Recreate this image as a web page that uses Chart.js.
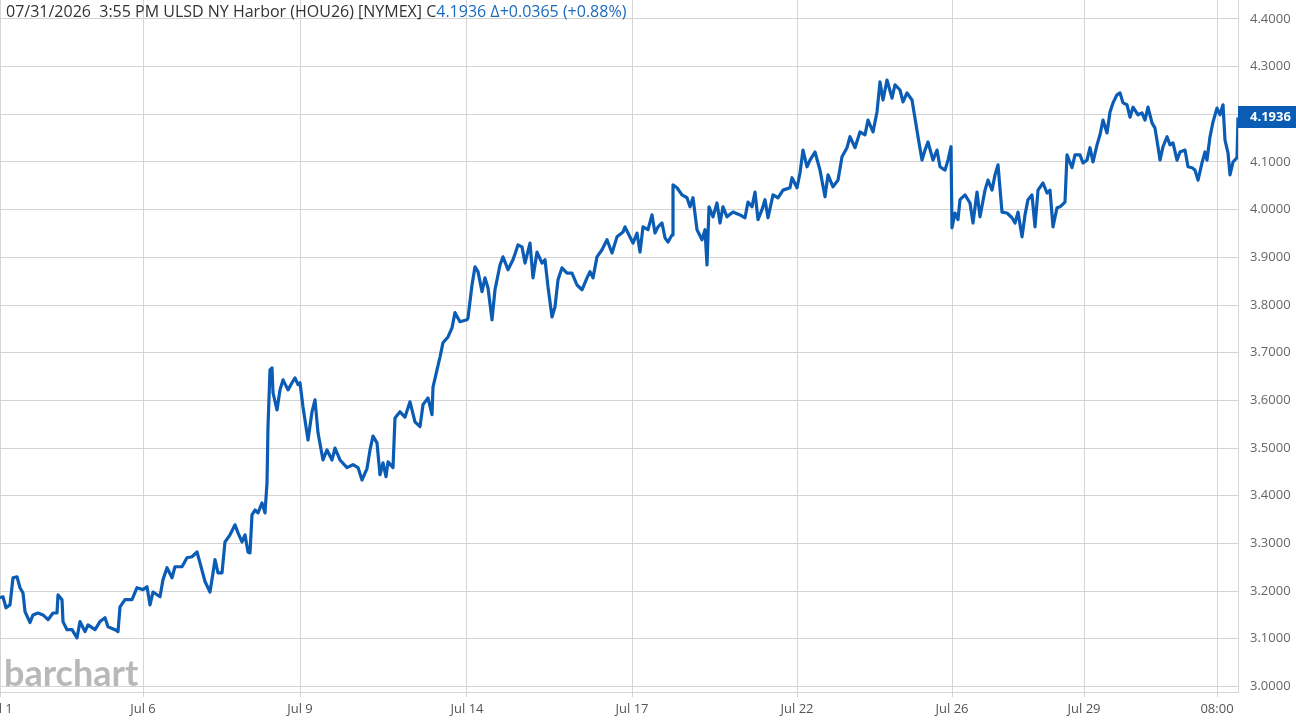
<!DOCTYPE html>
<html>
<head>
<meta charset="utf-8">
<script src="https://cdn.jsdelivr.net/npm/chart.js@4.4.1/dist/chart.umd.min.js"></script>
<style>
  html, body { margin: 0; padding: 0; background: #fff; overflow: hidden; }
  #wrap { width: 1296px; height: 721px; position: relative; }
</style>
</head>
<body>
<div id="wrap"><canvas id="chart" width="1296" height="721"></canvas></div>
<script>
// ============================
// Data (bar index on x, price on y)
// ============================
const times = [
  0, 3, 6, 10, 13, 17, 20, 23, 25, 30, 33, 38, 43, 48, 53, 57, 58, 62, 63, 67,
  72, 77, 80, 85, 88, 95, 100, 105, 108, 115, 118, 120, 125, 132, 137, 143, 147, 150, 153, 160,
  163, 167, 172, 175, 182, 187, 192, 197, 200, 205, 210, 213, 215, 218, 222, 225, 230, 235, 238, 242,
  245, 248, 250, 252, 255, 258, 262, 265, 267, 268, 270, 272, 273, 277, 280, 283, 288, 292, 295, 298,
  300, 303, 308, 312, 315, 318, 323, 327, 332, 335, 340, 347, 353, 358, 362, 367, 370, 373, 377, 380,
  383, 386, 388, 393, 395, 400, 405, 410, 415, 420, 423, 428, 432, 433, 437, 440, 443, 448, 452, 455,
  460, 467, 468, 472, 475, 478, 482, 485, 488, 492, 495, 500, 503, 508, 513, 518, 522, 525, 530, 533,
  537, 542, 545, 548, 552, 555, 558, 562, 567, 572, 577, 582, 587, 590, 593, 597, 602, 607, 612, 617,
  623, 625, 628, 633, 637, 640, 643, 648, 652, 655, 658, 662, 665, 668, 672, 673, 677, 682, 687, 690,
  693, 697, 702, 705, 707, 709, 713, 717, 720, 723, 727, 733, 740, 745, 748, 752, 755, 758, 762, 765,
  768, 773, 778, 783, 790, 792, 797, 800, 803, 807, 810, 815, 820, 825, 828, 833, 838, 842, 847, 850,
  855, 860, 865, 868, 873, 877, 880, 883, 887, 892, 895, 900, 903, 907, 912, 915, 918, 922, 925, 928,
  933, 937, 940, 945, 948, 951, 952, 955, 958, 960, 965, 970, 973, 977, 980, 985, 988, 992, 995, 998,
  1002, 1007, 1012, 1015, 1018, 1022, 1025, 1028, 1032, 1035, 1038, 1043, 1047, 1050, 1053, 1057, 1060, 1065, 1067, 1072,
  1075, 1080, 1083, 1087, 1090, 1093, 1097, 1100, 1103, 1107, 1110, 1113, 1117, 1120, 1123, 1127, 1130, 1133, 1138, 1142,
  1145, 1148, 1152, 1155, 1158, 1160, 1163, 1167, 1170, 1173, 1177, 1180, 1185, 1188, 1192, 1195, 1198, 1202, 1205, 1207,
  1210, 1213, 1217, 1220, 1223, 1225, 1228, 1230, 1233, 1237, 1238
];

const prices = [
  3.186, 3.188, 3.165, 3.171, 3.228, 3.230, 3.207, 3.196, 3.157, 3.134, 3.150, 3.154, 3.150, 3.140, 3.154, 3.154, 3.192, 3.182, 3.136, 3.119,
  3.119, 3.102, 3.136, 3.115, 3.129, 3.119, 3.136, 3.144, 3.125, 3.119, 3.115, 3.167, 3.182, 3.182, 3.207, 3.203, 3.209, 3.171, 3.198, 3.188,
  3.224, 3.249, 3.228, 3.251, 3.251, 3.270, 3.272, 3.282, 3.259, 3.220, 3.198, 3.238, 3.266, 3.238, 3.238, 3.303, 3.318, 3.339, 3.322, 3.303,
  3.318, 3.282, 3.280, 3.360, 3.370, 3.364, 3.385, 3.364, 3.427, 3.545, 3.664, 3.668, 3.616, 3.580, 3.622, 3.643, 3.622, 3.637, 3.647, 3.633,
  3.637, 3.586, 3.517, 3.576, 3.601, 3.532, 3.475, 3.496, 3.475, 3.500, 3.475, 3.459, 3.465, 3.459, 3.433, 3.457, 3.496, 3.525, 3.511, 3.444,
  3.469, 3.440, 3.471, 3.459, 3.563, 3.576, 3.565, 3.597, 3.555, 3.545, 3.591, 3.605, 3.570, 3.628, 3.664, 3.691, 3.721, 3.733, 3.752, 3.784,
  3.765, 3.769, 3.773, 3.842, 3.880, 3.870, 3.828, 3.857, 3.836, 3.769, 3.832, 3.884, 3.901, 3.874, 3.895, 3.926, 3.922, 3.888, 3.930, 3.857,
  3.911, 3.888, 3.895, 3.838, 3.775, 3.796, 3.853, 3.878, 3.867, 3.867, 3.842, 3.832, 3.857, 3.870, 3.857, 3.901, 3.916, 3.937, 3.909, 3.943,
  3.953, 3.964, 3.951, 3.930, 3.951, 3.911, 3.964, 3.958, 3.989, 3.951, 3.964, 3.972, 3.941, 3.932, 3.947, 4.052, 4.046, 4.031, 4.025, 4.006,
  4.025, 3.958, 3.937, 3.958, 3.884, 4.006, 3.985, 4.014, 3.972, 4.006, 3.985, 3.995, 3.989, 3.983, 4.016, 4.006, 4.037, 3.979, 4.000, 4.021,
  3.983, 4.031, 4.025, 4.041, 4.046, 4.067, 4.046, 4.077, 4.125, 4.090, 4.104, 4.121, 4.083, 4.027, 4.073, 4.048, 4.062, 4.111, 4.130, 4.153,
  4.130, 4.163, 4.157, 4.188, 4.163, 4.205, 4.268, 4.230, 4.272, 4.234, 4.262, 4.251, 4.226, 4.245, 4.230, 4.192, 4.153, 4.104, 4.125, 4.142,
  4.104, 4.125, 4.090, 4.083, 4.104, 4.132, 3.962, 3.993, 3.979, 4.021, 4.031, 4.014, 3.972, 4.037, 3.985, 4.041, 4.062, 4.041, 4.073, 4.094,
  3.995, 3.993, 3.983, 3.972, 3.995, 3.943, 3.989, 4.021, 4.031, 3.964, 4.041, 4.056, 4.035, 4.041, 3.964, 4.004, 4.006, 4.016, 4.115, 4.088,
  4.115, 4.115, 4.098, 4.104, 4.130, 4.100, 4.136, 4.157, 4.188, 4.161, 4.205, 4.224, 4.241, 4.245, 4.224, 4.220, 4.194, 4.215, 4.199, 4.203,
  4.188, 4.215, 4.182, 4.171, 4.132, 4.104, 4.132, 4.153, 4.136, 4.140, 4.104, 4.121, 4.125, 4.090, 4.088, 4.083, 4.062, 4.098, 4.121, 4.104,
  4.153, 4.184, 4.213, 4.199, 4.220, 4.146, 4.119, 4.073, 4.100, 4.109, 4.1936
];

// x-axis ticks (bar index) and their labels
const tickPositions = [0, 143, 300, 467, 632, 797, 952, 1084, 1217];
const tickLabels = ['Jul 1', 'Jul 6', 'Jul 9', 'Jul 14', 'Jul 17', 'Jul 22', 'Jul 26', 'Jul 29', '08:00'];

// y-axis ticks
const priceTicks = [3.0, 3.1, 3.2, 3.3, 3.4, 3.5, 3.6, 3.7, 3.8, 3.9, 4.0, 4.1, 4.2, 4.3, 4.4];

// header
const headerText = '07/31/2026  3:55 PM ULSD NY Harbor (HOU26) [NYMEX] C';
const headerQuote = '4.1936 \u0394+0.0365 (+0.88%)';
const lastPrice = prices[prices.length - 1];

const BLUE = '#0b5cb5';

// ============================
// Plugins
// ============================
const headerPlugin = {
    id: 'header',
    afterDraw(chart) {
        const ctx = chart.ctx;
        ctx.save();
        ctx.font = "16px 'Open Sans'";
        ctx.textBaseline = 'middle';
        ctx.textAlign = 'left';
        ctx.fillStyle = '#333333';
        ctx.fillText(headerText, 6, 12);
        const w = ctx.measureText(headerText).width;
        ctx.fillStyle = '#1a6bbf';
        ctx.fillText(headerQuote, 6 + w, 12);
        ctx.restore();
    }
};

const watermarkPlugin = {
    id: 'watermark',
    beforeDatasetsDraw(chart) {
        const ctx = chart.ctx;
        ctx.save();
        ctx.font = "bold 36px Lato";
        ctx.fillStyle = '#b8b8b8';
        ctx.textBaseline = 'alphabetic';
        ctx.fillText('barchart', 4, 686);
        ctx.restore();
    }
};

const lastPricePlugin = {
    id: 'lastPrice',
    afterDraw(chart) {
        const ctx = chart.ctx;
        const yScale = chart.scales.y;
        const y = yScale.getPixelForValue(lastPrice);
        const left = chart.chartArea.right;
        ctx.save();
        ctx.fillStyle = BLUE;
        ctx.fillRect(left, Math.round(y) - 11, chart.width - left, 22);
        ctx.fillStyle = '#ffffff';
        ctx.font = "bold 13px 'Open Sans'";
        ctx.textBaseline = 'middle';
        ctx.textAlign = 'left';
        ctx.fillText(lastPrice.toFixed(4), left + 12, Math.round(y));
        ctx.restore();
    }
};

// ============================
// Chart
// ============================
Chart.defaults.font.family = "'Open Sans', sans-serif";
Chart.defaults.devicePixelRatio = 1;

const ctx = document.getElementById('chart').getContext('2d');
new Chart(ctx, {
    type: 'line',
    data: {
        datasets: [{
            data: times.map((t, i) => ({ x: t, y: prices[i] })),
            borderColor: BLUE,
            borderWidth: 3.2,
            pointRadius: 0,
            tension: 0,
            borderJoinStyle: 'round',
            fill: false
        }]
    },
    options: {
        responsive: false,
        animation: false,
        layout: { padding: 0 },
        plugins: {
            legend: { display: false },
            tooltip: { enabled: false }
        },
        scales: {
            x: {
                type: 'linear',
                min: 0,
                max: 1238,
                afterBuildTicks: (scale) => {
                    scale.ticks = tickPositions.map(v => ({ value: v }));
                },
                afterFit: (scale) => {
                    scale.height = 29;
                    scale.paddingLeft = 0;
                    scale.paddingRight = 0;
                },
                ticks: {
                    autoSkip: false,
                    maxRotation: 0,
                    padding: 4,
                    color: '#555555',
                    font: { size: 13 },
                    callback: (value, index) => tickLabels[index]
                },
                grid: {
                    color: '#d6d6d6',
                    lineWidth: 1,
                    drawTicks: true,
                    tickLength: 5
                },
                border: { color: '#d6d6d6', width: 1 }
            },
            y: {
                position: 'right',
                min: 2.9883,
                max: 4.4398,
                afterBuildTicks: (scale) => {
                    scale.ticks = priceTicks.map(v => ({ value: v }));
                },
                afterFit: (scale) => {
                    scale.width = 58;
                    scale.paddingTop = 0;
                    scale.paddingBottom = 0;
                },
                ticks: {
                    padding: 12,
                    crossAlign: 'near',
                    color: '#666666',
                    font: { size: 13 },
                    callback: (value) => Number(value).toFixed(4)
                },
                grid: {
                    color: '#d3d3d3',
                    lineWidth: 1,
                    drawTicks: false
                },
                border: { color: '#d6d6d6', width: 1 }
            }
        }
    },
    plugins: [watermarkPlugin, headerPlugin, lastPricePlugin]
});
</script>
</body>
</html>
